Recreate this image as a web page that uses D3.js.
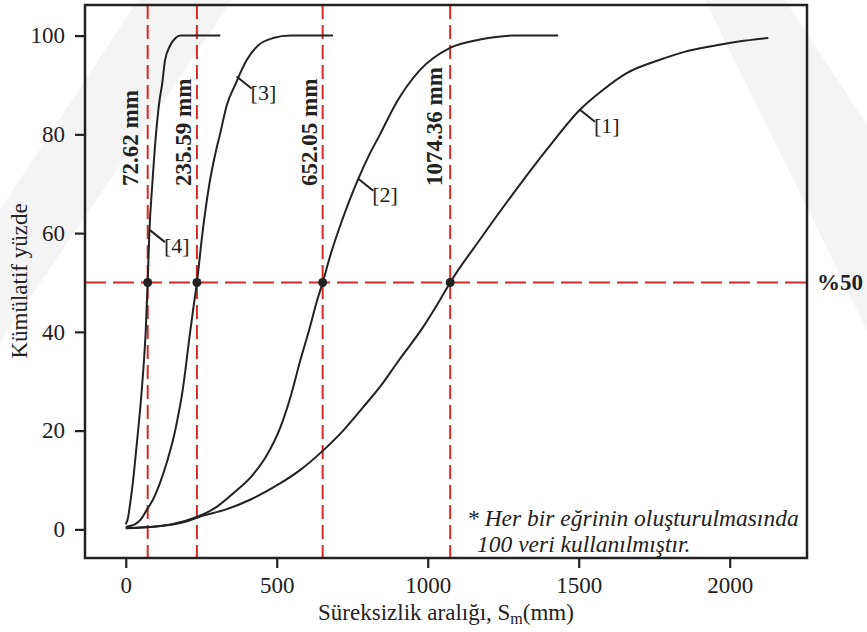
<!DOCTYPE html>
<html>
<head>
<meta charset="utf-8">
<script src="https://cdn.jsdelivr.net/npm/d3@7"></script>
<style>
  body { margin: 0; background: #fff; }
  text { font-family: "Liberation Serif", "Times New Roman", serif; fill: #222; }
</style>
</head>
<body>
<svg id="chart" width="867" height="632"></svg>
<script>
// cumulative curves (x in mm, y in %)
var c1x = [0, 100, 200, 246, 330, 412, 511, 577, 654, 720, 787, 850, 897, 985, 1041, 1074.36, 1173, 1283, 1394, 1504, 1580, 1659, 1769, 1850, 1935, 2030, 2128];
var c1y = [0.2, 0.6, 1.6, 2.6, 4, 6, 9.3, 12, 16, 20, 24.8, 29.5, 33.6, 41, 46.5, 50, 58.7, 68, 76.9, 85, 89, 92.4, 95.1, 96.7, 97.8, 98.8, 99.5];

var c2x = [0, 100, 150, 235, 300, 356, 420, 467, 511, 544, 577, 610, 632, 652.05, 680, 710, 740, 770, 805, 842, 897, 974, 1074, 1173, 1283, 1432];
var c2y = [0.3, 0.6, 1, 2.5, 4.5, 7.3, 11, 15, 20.5, 26.5, 34, 41, 46, 50, 56, 61.5, 66.5, 71, 75.7, 80, 86.5, 93, 97.5, 99.2, 100, 100];

var c3x = [0, 30, 50, 70, 90, 114, 138, 160, 175, 188, 200, 210, 222, 235.59, 254, 277, 300, 312, 335, 362, 400, 438, 488, 545, 686];
var c3y = [0.5, 1, 2, 4, 6, 9.5, 14, 19, 23.5, 28, 33.5, 38.5, 44, 50, 60, 70, 77, 80, 86, 90, 95, 98, 99.5, 100, 100];

var c4x = [0, 8, 14, 23, 36, 50, 60, 66, 72.62, 78, 88, 100, 112, 120, 130, 147, 165, 180, 313];
var c4y = [1, 2.5, 5, 9.2, 17, 26, 34, 40, 50, 60, 70, 80, 87, 90, 95, 98, 99.5, 100, 100];

var medians = [72.62, 235.59, 652.05, 1074.36];
var medianText = ["72.62 mm", "235.59 mm", "652.05 mm", "1074.36 mm"];
var level = 50;

var curveLabels = ["[1]", "[2]", "[3]", "[4]"];
var labelX = [1504, 770, 367, 80];
var labelY = [85, 71, 91.7, 60.6];

var xTicks = [0, 500, 1000, 1500, 2000];
var yTicks = [0, 20, 40, 60, 80, 100];

var red = "#d42a2a", ink = "#222";
var medianDx = [-10, -6, -6, -8]; // nudge of the rotated labels

var svg = d3.select("#chart");

// faint watermark bands behind the plot
svg.append("polygon").attr("points", "138,0 232,0 0,342 0,210").attr("fill", "#f4f4f4");
svg.append("polygon").attr("points", "705,0 785,0 867,125 867,330").attr("fill", "#f4f4f4");

var x = d3.scaleLinear().domain([-135, 2256]).range([85, 807]);
var y = d3.scaleLinear().domain([-5.8, 106.2]).range([558, 5]);

// axes
var gx = svg.append("g").attr("transform", "translate(0,558)")
    .call(d3.axisBottom(x).tickValues(xTicks).tickFormat(d3.format("d")).tickSize(10).tickPadding(9))
    .call(g => g.select(".domain").remove());
var gy = svg.append("g").attr("transform", "translate(85,0)")
    .call(d3.axisLeft(y).tickValues(yTicks).tickSize(10).tickPadding(10))
    .call(g => g.select(".domain").remove());
[gx, gy].forEach(g => {
    g.selectAll("line").attr("stroke", ink).attr("stroke-width", 2.2);
    g.selectAll("text").style("font-size", "23px").attr("fill", "#333").attr("font-family", null);
});

// red guides
svg.append("g").selectAll("line").data(medians).join("line")
    .attr("x1", d => x(d)).attr("x2", d => x(d))
    .attr("y1", 5).attr("y2", 558)
    .attr("stroke", red).attr("stroke-width", 2).attr("stroke-dasharray", "14,6");
svg.append("line")
    .attr("x1", 85).attr("x2", 807).attr("y1", y(level)).attr("y2", y(level))
    .attr("stroke", red).attr("stroke-width", 2).attr("stroke-dasharray", "21,7");

// curves
var line = d3.line().x(d => x(d[0])).y(d => y(d[1])).curve(d3.curveMonotoneX);
[[c1x, c1y], [c2x, c2y], [c3x, c3y], [c4x, c4y]].forEach(c => {
    svg.append("path")
        .datum(c[0].map((v, i) => [v, c[1][i]]))
        .attr("d", line)
        .attr("fill", "none").attr("stroke", ink).attr("stroke-width", 2);
});

// median dots
svg.append("g").selectAll("circle").data(medians).join("circle")
    .attr("cx", d => x(d)).attr("cy", y(level)).attr("r", 4.5).attr("fill", ink);

// rotated median labels
svg.append("g").selectAll("text").data(medians).join("text")
    .attr("transform", (d, i) => "translate(" + (x(d) + medianDx[i]) + ",186) rotate(-90)")
    .style("font-size", "23px").style("font-weight", "bold")
    .text((d, i) => medianText[i]);

// curve labels with leaders
curveLabels.forEach((t, i) => {
    var px = x(labelX[i]), py = y(labelY[i]);
    svg.append("line").attr("x1", px).attr("y1", py).attr("x2", px + 15).attr("y2", py + 12)
        .attr("stroke", ink).attr("stroke-width", 2);
    svg.append("text").attr("x", px + 14).attr("y", py + 23)
        .style("font-size", "22px").text(t);
});

// frame
svg.append("rect").attr("x", 85).attr("y", 5).attr("width", 722).attr("height", 553)
    .attr("fill", "none").attr("stroke", ink).attr("stroke-width", 2.5);

svg.append("text").attr("x", 817).attr("y", y(level) + 8)
    .style("font-size", "23px").style("font-weight", "bold").text("%50");

// note
svg.append("text").attr("x", 467).attr("y", 526).style("font-size", "23.5px").style("font-style", "italic")
    .text("* Her bir eğrinin oluşturulmasında");
svg.append("text").attr("x", 477).attr("y", 552).style("font-size", "23.5px").style("font-style", "italic")
    .text("100 veri kullanılmıştır.");

// axis titles
var xt = svg.append("text").attr("x", 446).attr("y", 620).attr("text-anchor", "middle")
    .style("font-size", "23px").attr("fill", "#333");
xt.append("tspan").text("Süreksizlik aralığı, S");
xt.append("tspan").attr("dy", 4).style("font-size", "16px").text("m");
xt.append("tspan").attr("dy", -4).text("(mm)");

svg.append("text").attr("transform", "translate(27,281) rotate(-90)").attr("text-anchor", "middle")
    .style("font-size", "23px").attr("fill", "#333").text("Kümülatif yüzde");
</script>
</body>
</html>
